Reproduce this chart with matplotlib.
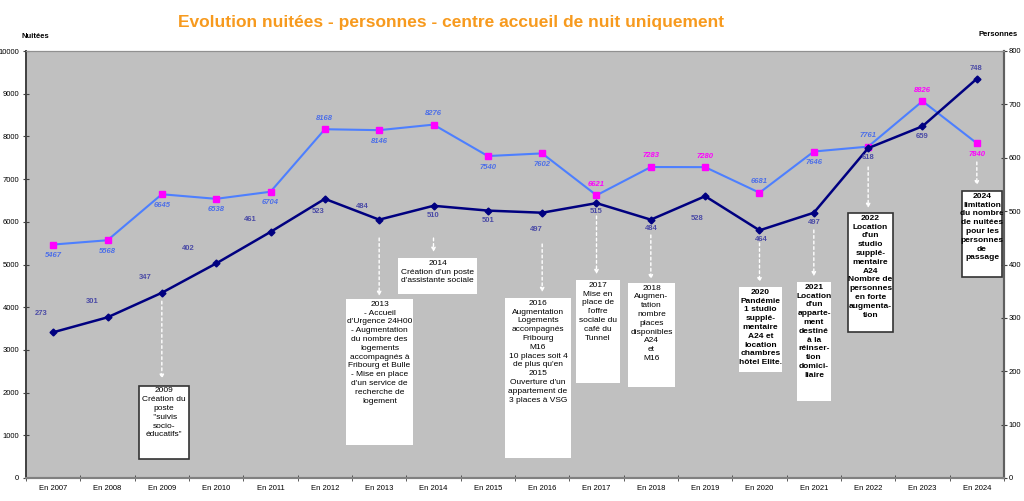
import matplotlib
matplotlib.use("Agg")
from matplotlib import pyplot as plt
from matplotlib.patches import Rectangle

plt.rcParams['font.family'] = ['Liberation Sans', 'DejaVu Sans']

annees = [2007, 2008, 2009, 2010, 2011, 2012, 2013, 2014, 2015,
          2016, 2017, 2018, 2019, 2020, 2021, 2022, 2023, 2024]
nuitees = [5467, 5568, 6645, 6538, 6704, 8168, 8146, 8276, 7540,
           7602, 6621, 7283, 7280, 6681, 7646, 7761, 8826, 7840]
personnes = [273, 301, 347, 402, 461, 523, 484, 510, 501,
             497, 515, 484, 528, 464, 497, 618, 659, 748]
labels_x = ["En %d" % a for a in annees]

# label placement (pixel offsets) and colours
nuit_above = [False, False, False, False, False, True, False, True, False,
              False, True, True, True, True, False, True, True, False]
nuit_magenta = [2017, 2018, 2019, 2023, 2024]
pers_off = [(-12, 19), (-15, 16), (-17, 15), (-28, 15), (-20, 12), (-7, -13),
            (-17, 13), (0, -10), (0, -10), (-6, -17), (0, -8), (0, -9),
            (-8, -22), (2, -9), (0, -10), (0, -9), (0, -10), (-1, 10)]

# annotation boxes: year, text, x0, x1, top, bottom (nuitées units), border, bold, arrow start, arrow end
notes = [
    (2009, "2009\nCréation du\nposte\n \"suivis\nsocio-\néducatifs\"",
     1.58, 2.50, 2160, 440, True, False, 4140, 2320),
    (2013, "2013\n- Accueil\nd'Urgence 24H00\n- Augmentation\ndu nombre des\nlogements\n"
           "accompagnés à\nFribourg et Bulle\n- Mise en place\nd'un service de\nrecherche de\nlogement",
     5.39, 6.623, 4192, 773, False, False, 5620, 4260),
    (2014, "2014\nCréation d'un poste\nd'assistante sociale",
     6.347, 7.801, 5152, 4309, False, False, 5620, 5290),
    (2016, "2016\nAugmentation\nLogements\naccompagnés\nFribourg\nM16\n10 places soit 4\n"
           "de plus qu'en\n2015\nOuverture d'un\nappartement de\n3 places à VSG",
     8.316, 9.531, 4215, 468, False, False, 5480, 4350),
    (2017, "2017\nMise en\nplace de\nl'offre\nsociale du\ncafé du\nTunnel",
     9.623, 10.433, 4637, 2225, False, False, 6136, 4770),
    (2018, "2018\nAugmen-\ntation\nnombre\nplaces\ndisponibles\nA24\net\nM16",
     10.58, 11.445, 4567, 2131, False, False, 5691, 4650),
    (2020, "2020\nPandémie\n1 studio\nsupplé-\nmentaire\nA24 et\nlocation\nchambres\nhôtel Elite.",
     12.623, 13.415, 4473, 2482, False, True, 5504, 4580),
    (2021, "2021\nLocation\nd'un\napparte-\nment\ndestiné\nà la\nréinser-\ntion\ndomici-\nliaire",
     13.691, 14.317, 4590, 1803, False, True, 5808, 4720),
    (2022, "2022\nLocation\nd'un\nstudio\nsupplé-\nmentaire\nA24\nNombre de\npersonnes\nen forte\naugmenta-\ntion",
     14.63, 15.458, 6206, 3419, True, True, 7283, 6320),
    (2024, "2024\nlimitation\ndu nombre\nde nuitées\npour les\npersonnes\nde\npassage",
     16.728, 17.464, 6721, 4707, True, True, 7400, 6850),
]

fig = plt.figure(figsize=(10.24, 5.01), dpi=100)
ax = fig.add_axes([26 / 1024, 1 - 478 / 501, 978 / 1024, 427 / 501])
ax.set_facecolor("#c0c0c0")
ax2 = ax.twinx()

x = list(range(len(annees)))
ax.plot(x, nuitees, color="#4d7fff", lw=1.5, marker="s", ms=5,
        mfc="#ff00ff", mec="#ff00ff", zorder=4)
ax2.plot(x, personnes, color="#000080", lw=1.8, marker="D", ms=3.5,
         mfc="#000080", mec="#000080", zorder=4)

for i, v in enumerate(nuitees):
    col = "#ff00ff" if annees[i] in nuit_magenta else "#4d6fe8"
    dy = 8 if nuit_above[i] else -8
    ax.annotate(str(v), (i, v), xytext=(0, dy), textcoords="offset points",
                ha="center", va="center", fontsize=5.5, fontweight="bold",
                fontstyle="italic", color=col, zorder=6)

for i, v in enumerate(personnes):
    dx, dy = pers_off[i]
    ax2.annotate(str(v), (i, v), xytext=(dx * 0.72, dy * 0.72), textcoords="offset points",
                 ha="center", va="center", fontsize=5.5, fontweight="bold",
                 color="#4b4ba6", zorder=6)

for an, txt, x0, x1, top, bot, border, bold, ya, yb in notes:
    i = annees.index(an)
    ax.annotate("", xy=(i, yb), xytext=(i, ya),
                arrowprops=dict(arrowstyle="-|>", color="white", lw=1,
                                ls=(0, (2, 2)), mutation_scale=6, shrinkA=0, shrinkB=0),
                zorder=5)
    ax.add_patch(Rectangle((x0, bot), x1 - x0, top - bot, facecolor="white",
                           edgecolor="#333333" if border else "white",
                           lw=1.2 if border else 0, zorder=7, clip_on=False))
    ax.text((x0 + x1) / 2, top - 40, txt, ha="center", va="top", fontsize=6,
            linespacing=1.36, fontweight="bold" if bold else "normal",
            color="black", zorder=8, clip_on=False)

ax.set_xlim(-0.5, len(annees) - 0.5)
ax.set_ylim(0, 10000)
ax2.set_ylim(0, 800)
ax.set_yticks(range(0, 10001, 1000))
ax2.set_yticks(range(0, 801, 100))
ax.set_xticks(x)
ax.set_xticklabels(labels_x, fontsize=5.5)
ax.set_xticks([i - 0.5 for i in range(len(annees) + 1)], minor=True)
ax.tick_params(axis="x", which="major", length=0, pad=5)
ax.tick_params(axis="x", which="minor", length=4, direction="inout", color="#404040")
ax.tick_params(axis="y", labelsize=5.5, length=4, direction="inout", color="#404040", pad=3)
ax2.tick_params(axis="y", labelsize=5.5, length=4, direction="inout", color="#404040", pad=1.5)

for a in (ax, ax2):
    a.spines["top"].set_color("#909090")
    a.spines["bottom"].set_color("#808080")
    a.spines["left"].set_color("#404040")
    a.spines["right"].set_color("#606060")
    a.spines["bottom"].set_linewidth(1.5)
    a.spines["right"].set_linewidth(1.5)
    a.spines["left"].set_linewidth(1.2)

fig.text(35 / 1024, 1 - 36 / 501, "Nuitées", fontsize=5.5, fontweight="bold",
         ha="center", va="center")
fig.text(998 / 1024, 1 - 34 / 501, "Personnes", fontsize=5.5, fontweight="bold",
         ha="center", va="center")
fig.text(451 / 1024, 1 - 22 / 501,
         "Evolution nuitées - personnes - centre accueil de nuit uniquement",
         fontsize=12.5, fontweight="bold", color="#f79a1e", ha="center", va="center")

fig.savefig("out.png", dpi=100)
